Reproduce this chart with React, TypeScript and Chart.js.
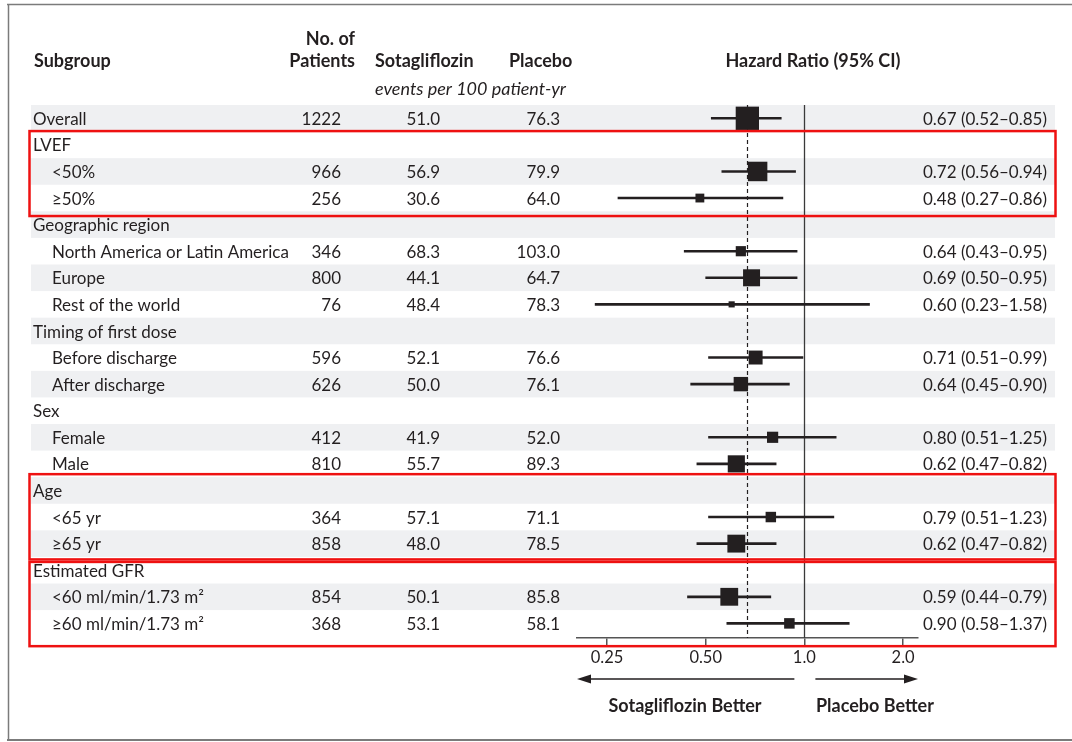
import React, { useEffect, useRef } from 'react';
import { Chart, registerables } from 'chart.js';

Chart.register(...registerables);

// Rows of the subgroup table, top to bottom
const subgroups = [
  'Overall',
  'LVEF',
  '<50%',
  '≥50%',
  'Geographic region',
  'North America or Latin America',
  'Europe',
  'Rest of the world',
  'Timing of first dose',
  'Before discharge',
  'After discharge',
  'Sex',
  'Female',
  'Male',
  'Age',
  '<65 yr',
  '≥65 yr',
  'Estimated GFR',
  '<60 ml/min/1.73 m²',
  '≥60 ml/min/1.73 m²',
];
const indentLevels = [0, 0, 1, 1, 0, 1, 1, 1, 0, 1, 1, 0, 1, 1, 0, 1, 1, 0, 1, 1];
const patients = [1222, null, 966, 256, null, 346, 800, 76, null, 596, 626, null, 412, 810, null, 364, 858, null, 854, 368];
const sotagliflozinRates = [51.0, null, 56.9, 30.6, null, 68.3, 44.1, 48.4, null, 52.1, 50.0, null, 41.9, 55.7, null, 57.1, 48.0, null, 50.1, 53.1];
const placeboRates = [76.3, null, 79.9, 64.0, null, 103.0, 64.7, 78.3, null, 76.6, 76.1, null, 52.0, 89.3, null, 71.1, 78.5, null, 85.8, 58.1];
const hazardRatios = [0.67, null, 0.72, 0.48, null, 0.64, 0.69, 0.6, null, 0.71, 0.64, null, 0.8, 0.62, null, 0.79, 0.62, null, 0.59, 0.9];
const ciLower = [0.52, null, 0.56, 0.27, null, 0.43, 0.5, 0.23, null, 0.51, 0.45, null, 0.51, 0.47, null, 0.51, 0.47, null, 0.44, 0.58];
const ciUpper = [0.85, null, 0.94, 0.86, null, 0.95, 0.95, 1.58, null, 0.99, 0.9, null, 1.25, 0.82, null, 1.23, 0.82, null, 0.79, 1.37];

const xTickValues = [0.25, 0.5, 1, 2];
const xTickLabels = ['0.25', '0.50', '1.0', '2.0'];

// Row groups outlined in red: first row, last row, extra px above / below
const outlinedGroups = [
  { first: 1, last: 3, above: 0.5, below: 4.7 },
  { first: 14, last: 16, above: 3, below: 2.5 },
  { first: 17, last: 19, above: -5, below: 9.5 },
];

const INK = '#231f20';
const BAND = '#eff0f2';
const FRAME = '#7b7b7b';
const RED = '#ee1111';
const FAMILY = 'Lato, "Open Sans", sans-serif';
const SIZE = 17;
const BOLD_SIZE = 18;
const ITALIC_SIZE = 18;

const rowsWithEstimate = subgroups.map((_, i) => i).filter((i) => hazardRatios[i] != null);

function squareSide(n: number) {
  return 5 + 0.015 * n;
}

function drawText(
  ctx: CanvasRenderingContext2D,
  str: string,
  x: number,
  y: number,
  align: CanvasTextAlign,
  style = ''
) {
  const size = style === 'bold' ? BOLD_SIZE : style === 'italic' ? ITALIC_SIZE : SIZE;
  ctx.font = `${style} ${size}px ${FAMILY}`.trim();
  ctx.textAlign = align;
  ctx.textBaseline = 'alphabetic';
  ctx.fillStyle = INK;
  ctx.fillText(str, x, y);
}

const forestTable = {
  id: 'forestTable',
  beforeDraw(chart: any) {
    const { ctx } = chart;
    const y = chart.scales.y;
    ctx.save();
    ctx.fillStyle = '#ffffff';
    ctx.fillRect(0, 0, chart.width, chart.height);
    ctx.fillStyle = BAND;
    subgroups.forEach((_, i) => {
      if (i % 2 !== 0) return;
      const top = y.getPixelForValue(i - 0.5);
      const bottom = y.getPixelForValue(i + 0.5);
      ctx.fillRect(31, top, 1055 - 31, bottom - top);
    });
    ctx.restore();
  },
  beforeDatasetsDraw(chart: any) {
    const { ctx, chartArea } = chart;
    const x = chart.scales.x;
    ctx.save();
    // no-effect line
    const x1 = Math.round(x.getPixelForValue(1)) + 0.5;
    ctx.strokeStyle = '#3a3a3a';
    ctx.lineWidth = 1.3;
    ctx.beginPath();
    ctx.moveTo(x1, chartArea.top);
    ctx.lineTo(x1, chartArea.bottom);
    ctx.stroke();
    // overall estimate line
    const xo = Math.round(x.getPixelForValue(hazardRatios[0] as number)) + 0.5;
    ctx.setLineDash([4, 3]);
    ctx.lineWidth = 1.2;
    ctx.strokeStyle = INK;
    ctx.beginPath();
    ctx.moveTo(xo, chartArea.top);
    ctx.lineTo(xo, chartArea.bottom);
    ctx.stroke();
    ctx.restore();
  },
  afterDraw(chart: any) {
    const { ctx, chartArea } = chart;
    const x = chart.scales.x;
    const y = chart.scales.y;
    ctx.save();

    // column headers
    drawText(ctx, 'Subgroup', 34, 67, 'left', 'bold');
    drawText(ctx, 'No. of', 355, 45, 'right', 'bold');
    drawText(ctx, 'Patients', 355, 67, 'right', 'bold');
    drawText(ctx, 'Sotagliflozin', 375, 67, 'left', 'bold');
    drawText(ctx, 'Placebo', 509, 67, 'left', 'bold');
    drawText(ctx, 'events per 100 patient-yr', 375, 95, 'left', 'italic');
    drawText(ctx, 'Hazard Ratio (95% CI)', 813, 67, 'center', 'bold');

    // table rows
    subgroups.forEach((label, i) => {
      const base = y.getPixelForValue(i) + 6.6;
      drawText(ctx, label, indentLevels[i] === 0 ? 33 : 52, base, 'left');
      if (patients[i] != null) drawText(ctx, String(patients[i]), 341, base, 'right');
      if (sotagliflozinRates[i] != null)
        drawText(ctx, (sotagliflozinRates[i] as number).toFixed(1), 440, base, 'right');
      if (placeboRates[i] != null)
        drawText(ctx, (placeboRates[i] as number).toFixed(1), 560, base, 'right');
      if (hazardRatios[i] != null) {
        const s = `${(hazardRatios[i] as number).toFixed(2)} (${(ciLower[i] as number).toFixed(2)}–${(
          ciUpper[i] as number
        ).toFixed(2)})`;
        drawText(ctx, s, 1047, base, 'right');
      }
    });

    // red outlines around selected subgroups
    ctx.strokeStyle = RED;
    ctx.lineWidth = 2.5;
    outlinedGroups.forEach((g) => {
      const top = y.getPixelForValue(g.first - 0.5) - g.above;
      const bottom = y.getPixelForValue(g.last + 0.5) + g.below;
      ctx.strokeRect(29.5, top, 1055.5 - 29.5, bottom - top);
    });

    // direction arrows
    const x1 = x.getPixelForValue(1);
    const ay = 679;
    ctx.strokeStyle = INK;
    ctx.fillStyle = INK;
    ctx.lineWidth = 1.5;
    ctx.beginPath();
    ctx.moveTo(x1 - 10, ay);
    ctx.lineTo(chartArea.left + 10, ay);
    ctx.moveTo(x1 + 11, ay);
    ctx.lineTo(chartArea.right - 10, ay);
    ctx.stroke();
    ctx.beginPath();
    ctx.moveTo(chartArea.left, ay);
    ctx.lineTo(chartArea.left + 14, ay - 4.5);
    ctx.lineTo(chartArea.left + 14, ay + 4.5);
    ctx.closePath();
    ctx.fill();
    ctx.beginPath();
    ctx.moveTo(chartArea.right, ay);
    ctx.lineTo(chartArea.right - 14, ay - 4.5);
    ctx.lineTo(chartArea.right - 14, ay + 4.5);
    ctx.closePath();
    ctx.fill();

    drawText(ctx, 'Sotagliflozin Better', 685, 712, 'center', 'bold');
    drawText(ctx, 'Placebo Better', 816, 712, 'left', 'bold');

    // figure frame
    ctx.strokeStyle = FRAME;
    ctx.lineWidth = 1.5;
    ctx.beginPath();
    ctx.moveTo(7, 4.5);
    ctx.lineTo(chart.width, 4.5);
    ctx.moveTo(8.5, 4);
    ctx.lineTo(8.5, 740);
    ctx.stroke();
    ctx.lineWidth = 2;
    ctx.beginPath();
    ctx.moveTo(7, 740);
    ctx.lineTo(chart.width, 740);
    ctx.stroke();

    ctx.restore();
  },
};

export default function App() {
  const canvasRef = useRef<HTMLCanvasElement>(null);

  useEffect(() => {
    const canvas = canvasRef.current;
    if (!canvas) return;
    const chart = new Chart(canvas, {
      data: {
        datasets: [
          {
            type: 'scatter',
            order: 0,
            data: rowsWithEstimate.map((i) => ({ x: hazardRatios[i] as number, y: i })),
            pointStyle: 'rect',
            pointRadius: rowsWithEstimate.map((i) => squareSide(patients[i] as number) / (2 * Math.SQRT1_2)),
            pointHoverRadius: rowsWithEstimate.map((i) => squareSide(patients[i] as number) / (2 * Math.SQRT1_2)),
            pointBackgroundColor: INK,
            pointBorderWidth: 0,
          },
          {
            type: 'bar',
            order: 1,
            indexAxis: 'y',
            data: rowsWithEstimate.map((i) => ({ x: [ciLower[i] as number, ciUpper[i] as number], y: i })),
            backgroundColor: INK,
            borderWidth: 0,
            barThickness: 2,
          },
        ],
      } as any,
      options: {
        responsive: false,
        animation: false,
        devicePixelRatio: 1,
        events: [],
        layout: { padding: { left: 577, right: 154, top: 105, bottom: 64 } },
        plugins: {
          legend: { display: false },
          tooltip: { enabled: false },
        },
        scales: {
          x: {
            type: 'logarithmic',
            position: 'bottom',
            min: 0.2025,
            max: 2.221,
            offset: false,
            afterBuildTicks: (scale: any) => {
              scale.ticks = xTickValues.map((v) => ({ value: v }));
            },
            afterFit: (scale: any) => {
              scale.height = 40;
            },
            ticks: {
              autoSkip: false,
              maxRotation: 0,
              padding: 3,
              color: INK,
              font: { family: FAMILY, size: 16.5 },
              callback: (_v: any, index: number) => xTickLabels[index],
            },
            grid: {
              drawOnChartArea: false,
              drawTicks: true,
              tickLength: 7,
              color: '#555555',
              lineWidth: 1.5,
              offset: false,
            },
            border: { display: true, color: '#555555', width: 1.5 },
          },
          y: {
            type: 'linear',
            min: -0.5,
            max: 19.55,
            reverse: true,
            offset: false,
            grace: 0,
            grid: { offset: false },
            display: false,
          },
        },
      } as any,
      plugins: [forestTable],
    });
    return () => chart.destroy();
  }, []);

  return (
    <div style={{ position: 'fixed', left: 0, top: 0, width: 1072, height: 742, background: '#fff' }}>
      <canvas ref={canvasRef} width={1072} height={742} style={{ display: 'block' }} />
    </div>
  );
}
